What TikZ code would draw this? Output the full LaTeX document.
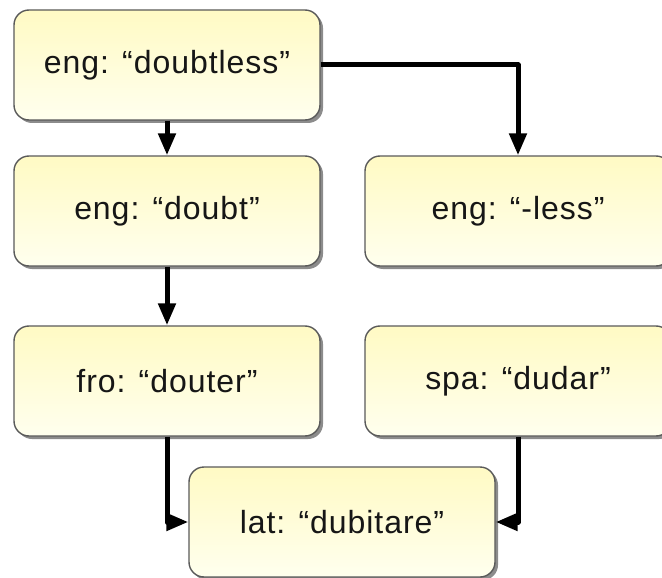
\documentclass[tikz,border=0pt]{standalone}
\usepackage{fontspec}
\newfontfamily\labelfont{Liberation Sans}[LetterSpace=3]
\usetikzlibrary{arrows.meta,shadows}

\definecolor{boxtop}{RGB}{255,250,196}
\definecolor{boxbottom}{RGB}{255,255,238}
\definecolor{boxline}{RGB}{90,90,90}
\definecolor{inktext}{RGB}{22,22,22}

\tikzset{
  etym/.style={
    rectangle, rounded corners=15pt,
    minimum width=306pt, minimum height=110pt,
    draw=boxline, line width=1.4pt,
    top color=boxtop, bottom color=boxbottom,
    drop shadow={shadow xshift=3pt, shadow yshift=-3pt, fill=black, opacity=0.45},
    font=\labelfont\fontsize{32}{38}\selectfont, text=inktext,
    inner sep=0pt
  },
  link/.style={
    draw=black, line width=5pt, line join=round,
    -{Triangle[length=22pt,width=17pt]}
  }
}

\begin{document}
\begin{tikzpicture}[x=1pt,y=-1pt]
  \useasboundingbox[fill=white] (0,0) rectangle (662,578);

  % word boxes
  \node[etym] (doubtless) at (167,65)  {eng: “doubtless”};
  \node[etym] (doubt)     at (167,211) {eng: “doubt”};
  \node[etym] (less)      at (518,211) {eng: “-less”};
  \node[etym] (fro)       at (167,381) {fro: “douter”};
  \node[etym] (spa)       at (518,381) {spa: “dudar”};
  \node[etym] (lat)       at (342,522) {lat: “dubitare”};

  % derivation links
  \draw[link] (doubtless) -- (doubt);
  \draw[link] (doubtless.east) -| (less.north);
  \draw[link] (doubt) -- (fro);
  \draw[link] (fro.south) |- (lat.west);
  \draw[link] (spa.south) |- (lat.east);
\end{tikzpicture}
\end{document}
